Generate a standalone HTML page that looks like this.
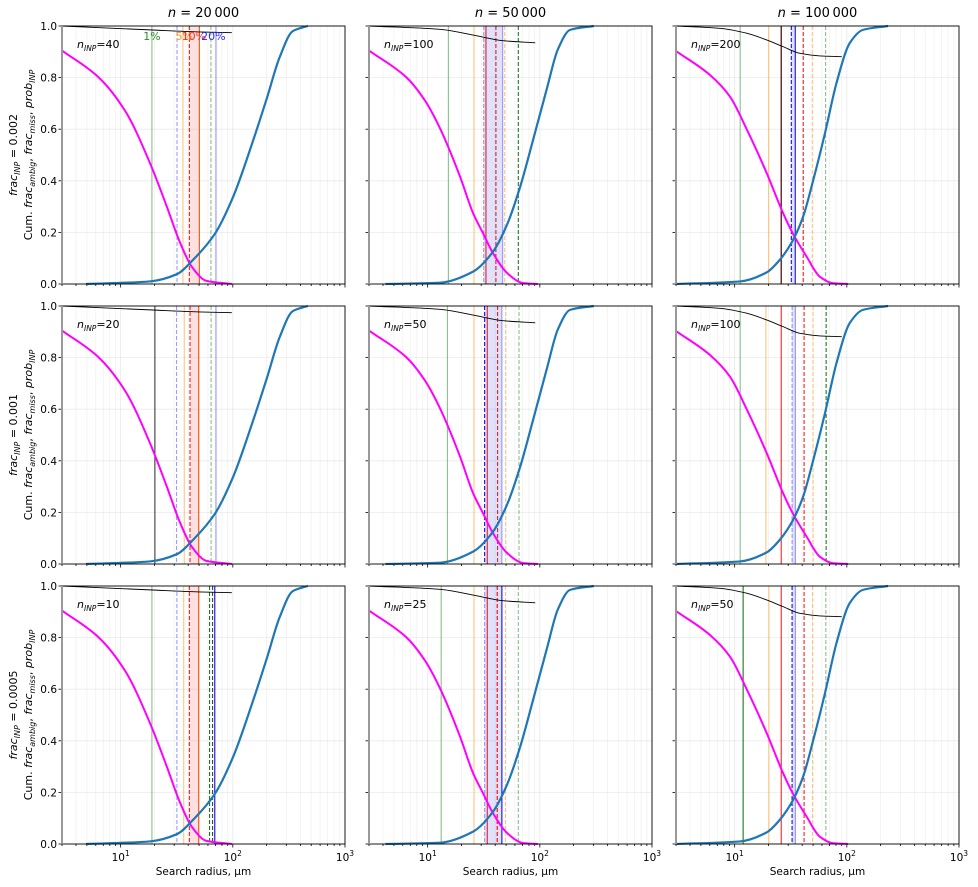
<!DOCTYPE html>
<html><head><meta charset="utf-8"><style>
body{margin:0;background:#fff;}
svg{display:block;font-family:"DejaVu Sans","Liberation Sans",sans-serif;}
</style></head><body>
<svg id="fig" width="978" height="887" viewBox="0 0 978 887" xmlns="http://www.w3.org/2000/svg"></svg>
<script>
// ---- data ----
const colTitles = ["20\u2009000", "50\u2009000", "100\u2009000"];
const rowFrac = ["0.002", "0.001", "0.0005"];
const nInp = [[40, 100, 200], [20, 50, 100], [10, 25, 50]];
const yTicks = [0, 0.2, 0.4, 0.6, 0.8, 1.0];
const yTickLabels = ["0.0", "0.2", "0.4", "0.6", "0.8", "1.0"];
const xMajor = [10, 100, 1000];
const xMajorLabels = ["1", "2", "3"];
// cumulative (blue) curves per column: radius, value
const blueR = [[4.9, 18.2, 31.7, 44.5, 69.3, 100, 150, 201, 262, 342, 466],
  [4.2, 12.9, 25.4, 38.2, 51, 66.6, 87, 116, 145, 186, 303],
  [3.0, 11.2, 19.3, 25.4, 33.1, 40.7, 50, 63.9, 81, 106.6, 139, 233]];
const blueV = [[0, 0.01, 0.038, 0.095, 0.195, 0.335, 0.55, 0.72, 0.88, 0.98, 1.0],
  [0, 0.005, 0.048, 0.125, 0.23, 0.375, 0.558, 0.76, 0.91, 0.985, 1.0],
  [0, 0.01, 0.045, 0.095, 0.17, 0.26, 0.4, 0.585, 0.78, 0.935, 0.985, 1.0]];
const magR = [[3.0, 6.4, 11.0, 18.2, 25.8, 33.5, 43.2, 58.2, 98],
  [3.0, 6.5, 9.5, 12.9, 19.3, 25.4, 31.3, 38.2, 51, 70.6, 96],
  [3.0, 6.03, 9.09, 12.8, 19.3, 27.0, 33.1, 43.8, 57.6, 75.4, 102.6]];
const magV = [[0.905, 0.8, 0.67, 0.47, 0.30, 0.165, 0.066, 0.012, 0],
  [0.905, 0.8, 0.71, 0.603, 0.42, 0.275, 0.195, 0.12, 0.043, 0.004, 0],
  [0.903, 0.81, 0.726, 0.6, 0.43, 0.275, 0.195, 0.106, 0.028, 0.003, 0]];
const probR = [[3, 18.2, 50, 98], [3, 12.9, 25.4, 47, 91], [3, 7.4, 12.8, 19.3, 27, 38.2, 57.6, 90]];
const probV = [[1.0, 0.985, 0.977, 0.974], [1.0, 0.987, 0.965, 0.943, 0.935], [1.0, 0.991, 0.972, 0.946, 0.92, 0.894, 0.884, 0.881]];
// vertical threshold lines per panel [row][col]: [radius, colour, style]
const vlines = [
 [[[19,'g','s'],[31.8,'b','d'],[35.9,'o','s'],[41,'r','d'],[50.4,'r','s'],[50.4,'o','s'],[63.8,'g','d'],[70.8,'b','s']],
  [[15.3,'g','s'],[25.9,'o','s'],[31.6,'b','d'],[33.1,'r','s'],[40.6,'r','d'],[46.6,'b','s'],[48.6,'o','d'],[64.3,'G','d']],
  [[11.2,'g','s'],[20.1,'o','s'],[26,'r','s'],[26,'k','s'],[32,'B','d'],[34.7,'B','s'],[40.9,'r','d'],[49.2,'o','d'],[64.7,'g','d']]],
 [[[20.2,'k','s'],[31.5,'b','d'],[36.9,'o','s'],[41.5,'r','d'],[49.6,'r','s'],[49.6,'o','s'],[64,'g','d'],[70.8,'b','s']],
  [[15,'g','s'],[25.9,'o','s'],[32.2,'B','d'],[34,'r','s'],[42,'r','d'],[45.9,'b','s'],[49.6,'o','d'],[65.2,'g','d']],
  [[11.2,'g','s'],[19,'o','s'],[26,'r','s'],[32.5,'b','d'],[34.8,'b','s'],[41.6,'r','d'],[50,'o','d'],[65.4,'G','d']]],
 [[[19,'g','s'],[31.7,'b','d'],[36.5,'o','s'],[41,'r','d'],[49.6,'r','s'],[49.6,'o','s'],[62,'G','d'],[66,'k','d'],[69,'B','s']],
  [[13.2,'g','s'],[25.9,'o','s'],[32.2,'b','d'],[34,'r','s'],[41.7,'R','d'],[45.9,'B','s'],[49.3,'o','d'],[64.3,'g','d']],
  [[11.9,'G','s'],[20.2,'o','s'],[26,'r','s'],[32.5,'B','d'],[34.8,'b','s'],[41.6,'r','d'],[49.5,'o','d'],[65,'g','d']]]
];
// shaded spans [row][col]: [r0, r1, colour]
const spans = [
 [[41, 50.4, 'r'], [31.6, 46.6, 'b'], [32, 34.7, 'b']],
 [[41.5, 49.6, 'r'], [32.2, 45.9, 'b'], [32.5, 34.8, 'b']],
 [[41, 49.6, 'r'], [32.2, 45.9, 'b'], [32.5, 34.8, 'b']]
];
const pctLabels = ["1%", "5%", "10%", "20%"];
const pctR = [19, 37, 45, 67];
const pctCol = ["#2a8a2a", "#ff9a1a", "#ff2a2a", "#2a2aff"];

// ---- layout ----
const colLeft = [62, 369, 676], PW = 283, rowTop = [26, 306, 586], PH = 258;
const XMIN = Math.log10(3), XMAX = 3;
const colours = {g:'rgba(40,140,40,0.55)',G:'#1a7a1a',o:'rgba(255,150,20,0.55)',r:'rgba(230,0,0,0.85)',R:'#ff0000',b:'rgba(60,60,255,0.5)',B:'#1010ee',k:'rgba(0,0,0,0.75)'};
const spanCol = {r:'rgba(255,100,100,0.2)', b:'rgba(90,90,230,0.18)'};
const NS = "http://www.w3.org/2000/svg";
const svg = document.getElementById('fig');
function mk(tag, attrs, parent, text){const e=document.createElementNS(NS,tag);for(const k in attrs)e.setAttribute(k,attrs[k]);if(text!==undefined)e.textContent=text;(parent||svg).appendChild(e);return e;}
function xs(c, r){return colLeft[c] + (Math.log10(r)-XMIN)/(XMAX-XMIN)*PW;}
function ys(row, v){return rowTop[row] + PH - v*PH;}
// monotone cubic (Fritsch–Carlson) path
function smooth(pts){
  const n=pts.length, dx=[], dy=[], m=[], t=[];
  for(let i=0;i<n-1;i++){dx[i]=pts[i+1][0]-pts[i][0];dy[i]=pts[i+1][1]-pts[i][1];m[i]=dy[i]/dx[i];}
  t[0]=m[0]; t[n-1]=m[n-2];
  for(let i=1;i<n-1;i++){
    if(m[i-1]*m[i]<=0) t[i]=0;
    else { const w1=2*dx[i]+dx[i-1], w2=dx[i]+2*dx[i-1]; t[i]=(w1+w2)/(w1/m[i-1]+w2/m[i]); }
  }
  let d=`M${pts[0][0]},${pts[0][1]}`;
  for(let i=0;i<n-1;i++){
    const h=dx[i]/3;
    d+=` C${pts[i][0]+h},${pts[i][1]+t[i]*h} ${pts[i+1][0]-h},${pts[i+1][1]-t[i+1]*h} ${pts[i+1][0]},${pts[i+1][1]}`;
  }
  return d;
}
for(let c=0;c<3;c++){
  const t = mk('text',{x:colLeft[c]+PW/2,y:17,'text-anchor':'middle','font-size':13},svg);
  
  
  mk('tspan',{'font-style':'italic'},t,'n');
  mk('tspan',{},t,' = '+colTitles[c]);
}
for(let row=0;row<3;row++){
  const yl = mk('g',{transform:`translate(0,${rowTop[row]+PH/2}) rotate(-90)`});
  
  
  const t1 = mk('text',{x:0,y:17,'text-anchor':'middle','font-size':11},yl);
  mk('tspan',{'font-style':'italic'},t1,'frac');
  mk('tspan',{'font-style':'italic','font-size':8,dy:3},t1,'INP');
  mk('tspan',{dy:-3},t1,' = '+rowFrac[row]);
  const t2 = mk('text',{x:0,y:32,'text-anchor':'middle','font-size':11},yl);
  mk('tspan',{},t2,'Cum. ');
  mk('tspan',{'font-style':'italic'},t2,'frac');
  mk('tspan',{'font-style':'italic','font-size':8,dy:3},t2,'ambig');
  mk('tspan',{dy:-3},t2,', ');
  mk('tspan',{'font-style':'italic'},t2,'frac');
  mk('tspan',{'font-style':'italic','font-size':8,dy:3},t2,'miss');
  mk('tspan',{dy:-3},t2,', ');
  mk('tspan',{'font-style':'italic'},t2,'prob');
  mk('tspan',{'font-style':'italic','font-size':8,dy:3},t2,'INP');
  for(let c=0;c<3;c++){
    const g = mk('g',{});
    
    
    const L=colLeft[c], T=rowTop[row];
    for(let e=0;e<3;e++){
      for(let m=1;m<=9;m++){
        const r=Math.pow(10,e)*m; if(r<3||r>1000) continue;
        const x=xs(c,r);
        mk('line',{x1:x,x2:x,y1:T,y2:T+PH,stroke:'#000','stroke-opacity':m===1?0.09:0.06,'stroke-width':0.8},g);
        mk('line',{x1:x,x2:x,y1:T+PH,y2:T+PH+(m===1?3.5:2),stroke:'#000','stroke-width':0.8},g);
      }
    }
    const x1000=xs(c,1000);
    mk('line',{x1:x1000,x2:x1000,y1:T+PH,y2:T+PH+3.5,stroke:'#000','stroke-width':0.8},g);
    yTicks.forEach((v,i)=>{
      const y=ys(row,v);
      mk('line',{x1:L,x2:L+PW,y1:y,y2:y,stroke:'#000','stroke-opacity':0.08,'stroke-width':0.8},g);
      mk('line',{x1:L-3.5,x2:L,y1:y,y2:y,stroke:'#000','stroke-width':0.8},g);
      if(c===0){
        const tl=mk('text',{x:L-5,y:y+4,'text-anchor':'end','font-size':10.5},g,yTickLabels[i]);
        
        
      }
    });
    if(row===2){
      xMajor.forEach((r,i)=>{
        const tl=mk('text',{x:xs(c,r),y:T+PH+17,'text-anchor':'middle','font-size':10.5},g);
        
        
        mk('tspan',{},tl,'10');
        mk('tspan',{'font-size':7.5,dy:-5},tl,xMajorLabels[i]);
      });
      const xl=mk('text',{x:L+PW/2,y:T+PH+31,'text-anchor':'middle','font-size':10.5},g,'Search radius, \u00b5m');
      
      
    }
    const sp=spans[row][c];
    const sr=mk('rect',{x:xs(c,sp[0]),y:T,width:xs(c,sp[1])-xs(c,sp[0]),height:PH,fill:spanCol[sp[2]]},g);
    
    
    vlines[row][c].forEach(v=>{
      const x=xs(c,v[0]);
      const ln=mk('line',{x1:x,x2:x,y1:T,y2:T+PH,stroke:colours[v[1]],'stroke-width':1.1},g);
      if(v[2]==='d') ln.setAttribute('stroke-dasharray','4,2');
      
      
    });
    const pp=probR[c].map((r,i)=>[xs(c,r),ys(row,probV[c][i])]);
    const pl=mk('path',{d:smooth(pp),fill:'none',stroke:'#000','stroke-width':0.9},g);
    
    
    const mp=magR[c].map((r,i)=>[xs(c,r),ys(row,magV[c][i])]);
    const ml=mk('path',{d:smooth(mp),fill:'none',stroke:'#ff00ff','stroke-width':2},g);
    
    
    const bp=blueR[c].map((r,i)=>[xs(c,r),ys(row,blueV[c][i])]);
    const bl=mk('path',{d:smooth(bp),fill:'none',stroke:'#1f77b4','stroke-width':2.2},g);
    
    
    const fr=mk('rect',{x:L,y:T,width:PW,height:PH,fill:'none',stroke:'#000','stroke-width':0.9},g);
    
    
    mk('line',{x1:L,x2:L,y1:T,y2:T+PH,stroke:'#999','stroke-width':2},g);
    const nl=mk('text',{x:L+15,y:T+22,'font-size':11},g);
    
    
    mk('tspan',{'font-style':'italic'},nl,'n');
    mk('tspan',{'font-style':'italic','font-size':7.5,dy:3},nl,'INP');
    mk('tspan',{dy:-3},nl,'='+nInp[row][c]);
    if(row===0&&c===0){
      pctLabels.forEach((s,i)=>{
        const pt=mk('text',{x:xs(0,pctR[i]),y:T+14,'text-anchor':'middle','font-size':11,fill:pctCol[i]},g,s);
        
        
      });
    }
  }
}
</script>
</body></html>
